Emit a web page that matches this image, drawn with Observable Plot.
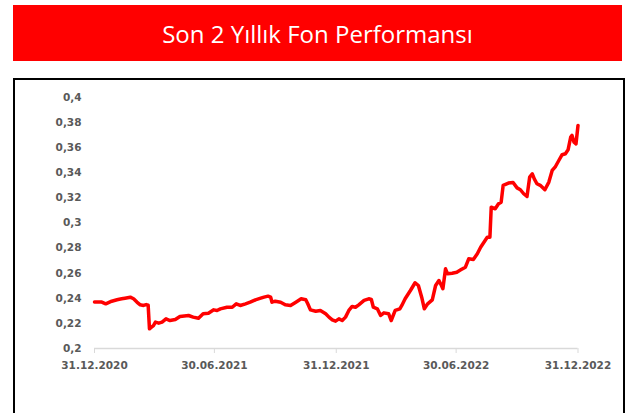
<!DOCTYPE html>
<html>
<head>
<meta charset="utf-8">
<script src="https://cdn.jsdelivr.net/npm/d3@7"></script>
<script src="https://cdn.jsdelivr.net/npm/@observablehq/plot@0.6"></script>
<style>
  html, body { margin: 0; padding: 0; background: #fff; }
  body { width: 633px; height: 413px; position: relative; overflow: hidden; }
  #banner {
    position: absolute; left: 13px; top: 5px; width: 609px; height: 56px;
    background: #ff0000; color: #fff;
    font-family: "Open Sans", sans-serif; font-size: 24px;
    display: flex; align-items: center; justify-content: center;
  }
  #box {
    position: absolute; left: 13px; top: 78px; width: 608px; height: 340px;
    border: 2px solid #000; background: #fff;
  }
  #chart { position: absolute; left: 0; top: 0; }
</style>
</head>
<body>
<div id="banner">Son 2 Yıllık Fon Performansı</div>
<div id="box"><div id="chart"></div></div>
<script>
const titleText = "Son 2 Yıllık Fon Performansı";

const dates = [
  "2020-12-31","2021-01-11","2021-01-17","2021-01-26","2021-02-03","2021-02-10","2021-02-15","2021-02-23",
  "2021-02-28","2021-03-05","2021-03-10","2021-03-15","2021-03-19","2021-03-22","2021-03-24","2021-03-27",
  "2021-03-30","2021-04-02","2021-04-07","2021-04-12","2021-04-18","2021-04-24","2021-05-02","2021-05-09",
  "2021-05-22","2021-05-29","2021-06-06","2021-06-13","2021-06-21","2021-06-29","2021-07-04","2021-07-09",
  "2021-07-19","2021-07-27","2021-08-02","2021-08-08","2021-08-16","2021-08-23","2021-08-31","2021-09-08",
  "2021-09-13","2021-09-19","2021-09-23","2021-09-25","2021-09-30","2021-10-08","2021-10-15","2021-10-23",
  "2021-10-31","2021-11-08","2021-11-15","2021-11-18","2021-11-22","2021-11-30","2021-12-07","2021-12-15",
  "2021-12-20","2021-12-25","2021-12-30","2022-01-04","2022-01-09","2022-01-14","2022-01-19","2022-01-24",
  "2022-01-29","2022-02-03","2022-02-11","2022-02-18","2022-02-22","2022-02-25","2022-03-03","2022-03-08",
  "2022-03-13","2022-03-20","2022-03-24","2022-03-30","2022-04-06","2022-04-09","2022-04-14","2022-04-22",
  "2022-04-29","2022-05-04","2022-05-09","2022-05-13","2022-05-18","2022-05-25","2022-05-30","2022-06-04",
  "2022-06-08","2022-06-10","2022-06-14","2022-06-17","2022-06-24","2022-07-01","2022-07-07","2022-07-14",
  "2022-07-19","2022-07-26","2022-08-01","2022-08-06","2022-08-11","2022-08-16","2022-08-20","2022-08-22",
  "2022-08-28","2022-09-02","2022-09-06","2022-09-09","2022-09-17","2022-09-24","2022-09-30","2022-10-05",
  "2022-10-10","2022-10-15","2022-10-19","2022-10-23","2022-10-26","2022-10-30","2022-11-04","2022-11-11",
  "2022-11-17","2022-11-22","2022-11-27","2022-12-02","2022-12-07","2022-12-12","2022-12-16","2022-12-20",
  "2022-12-22","2022-12-25","2022-12-28","2022-12-31"
];
const values = [
  0.2370,0.2370,0.2356,0.2377,0.2388,0.2396,0.2401,0.2409,
  0.2396,0.2370,0.2348,0.2343,0.2350,0.2345,0.2157,0.2170,
  0.2183,0.2210,0.2202,0.2210,0.2236,0.2223,0.2231,0.2255,
  0.2263,0.2250,0.2241,0.2277,0.2281,0.2308,0.2303,0.2316,
  0.2329,0.2329,0.2356,0.2343,0.2356,0.2369,0.2388,0.2401,
  0.2409,0.2417,0.2409,0.2369,0.2377,0.2369,0.2348,0.2343,
  0.2369,0.2396,0.2388,0.2356,0.2308,0.2297,0.2303,0.2277,
  0.2250,0.2229,0.2218,0.2236,0.2223,0.2250,0.2303,0.2335,
  0.2329,0.2348,0.2383,0.2396,0.2390,0.2329,0.2316,0.2263,
  0.2284,0.2277,0.2223,0.2303,0.2316,0.2343,0.2396,0.2462,
  0.2524,0.2502,0.2409,0.2316,0.2356,0.2388,0.2502,0.2542,
  0.2500,0.2476,0.2635,0.2595,0.2600,0.2608,0.2627,0.2648,
  0.2715,0.2710,0.2755,0.2807,0.2847,0.2887,0.2887,0.3126,
  0.3113,0.3153,0.3166,0.3300,0.3318,0.3323,0.3280,0.3265,
  0.3233,0.3211,0.3365,0.3392,0.3352,0.3313,0.3300,0.3265,
  0.3326,0.3419,0.3450,0.3498,0.3544,0.3552,0.3583,0.3684,
  0.3698,0.3644,0.3631,0.3777
];

const xTickDates = ["2020-12-31","2021-06-30","2021-12-31","2022-06-30","2022-12-31"];
const xTickLabels = ["31.12.2020","30.06.2021","31.12.2021","30.06.2022","31.12.2022"];
const yTicks = [0.2,0.22,0.24,0.26,0.28,0.3,0.32,0.34,0.36,0.38,0.4];

const parse = d3.utcParse("%Y-%m-%d");
const data = dates.map((d, i) => ({date: parse(d), value: values[i]}));
const xTicks = xTickDates.map(parse);
const labelOf = new Map(xTicks.map((d, i) => [+d, xTickLabels[i]]));
const fmtY = v => String(+v.toFixed(2)).replace(".", ",");

const chart = Plot.plot({
  width: 608,
  height: 333,
  marginLeft: 79,
  marginRight: 45.5,
  marginTop: 17,
  marginBottom: 65,
  style: {fontFamily: "'DejaVu Sans', sans-serif", fontSize: "10.5px", fontWeight: "bold", background: "transparent", overflow: "visible"},
  x: {type: "utc", domain: [xTicks[0], xTicks[xTicks.length - 1]]},
  y: {domain: [0.2, 0.4]},
  marks: [
    Plot.axisY(yTicks, {tickSize: 0, tickPadding: 13, tickFormat: fmtY, fill: "#595959", label: null}),
    Plot.ruleY([0.2], {stroke: "#d9d9d9", strokeWidth: 1.5}),
    Plot.axisX(xTicks, {tickSize: 5, tickPadding: 8, stroke: "#d9d9d9", fill: "#595959", tickFormat: d => labelOf.get(+d), label: null}),
    Plot.lineY(data, {x: "date", y: "value", stroke: "#ff0000", strokeWidth: 3.5, strokeLinejoin: "round", strokeLinecap: "round"})
  ]
});
document.getElementById("chart").appendChild(chart);
</script>
</body>
</html>
